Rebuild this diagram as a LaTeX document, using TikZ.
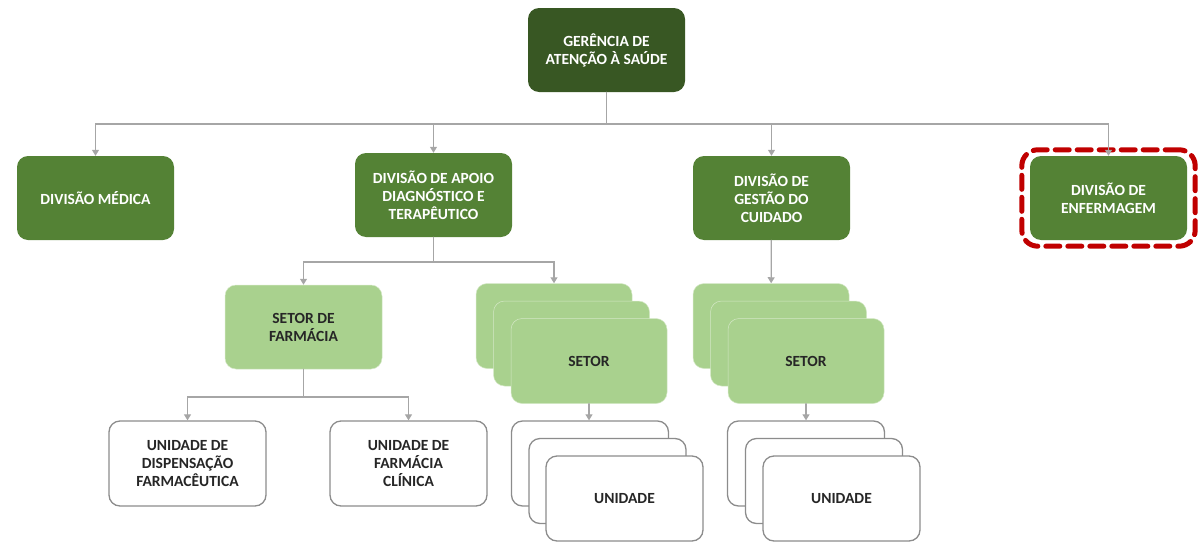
\documentclass[tikz,border=0pt]{standalone}
\usepackage{fontspec}
\setmainfont{Carlito}
\usetikzlibrary{arrows.meta,fit}

\definecolor{verdeEsc}{HTML}{385723}
\definecolor{verdeMed}{HTML}{548235}
\definecolor{verdeCla}{HTML}{A9D18E}
\definecolor{cinzaLin}{HTML}{A6A6A6}
\definecolor{cinzaBor}{HTML}{8C8C8C}
\definecolor{vermelho}{HTML}{C00000}

\begin{document}
\begin{tikzpicture}[x=1pt,y=-1pt,line cap=round,
  caixa/.style={rounded corners=11pt, minimum width=157pt, minimum height=84pt,
    align=center, inner sep=2pt, font=\bfseries\fontsize{15.5}{18}\selectfont},
  gerencia/.style={caixa, fill=verdeEsc, text=white},
  divisao/.style={caixa, fill=verdeMed, text=white},
  setor/.style={caixa, fill=verdeCla, draw=verdeCla!50!white, line width=0.5pt, text=black!85},
  unidade/.style={caixa, fill=white, draw=cinzaBor, line width=1.3pt, text=black!85},
  link/.style={draw=cinzaLin, line width=1.2pt},
  seta/.style={link, -{Triangle[width=7pt,length=6pt]}}]

\useasboundingbox (0,0) rectangle (1199,546);

% --- Gerencia ---
\node[gerencia] (ger) at (606.5,50) {GERÊNCIA DE\\ATENÇÃO À SAÚDE};

% --- Divisoes ---
\node[divisao] (med)    at (95.5,198)   {DIVISÃO MÉDICA};
\node[divisao] (apoio)  at (433.5,195)  {DIVISÃO DE APOIO\\DIAGNÓSTICO E\\TERAPÊUTICO};
\node[divisao] (gestao) at (771.5,198)  {DIVISÃO DE\\GESTÃO DO\\CUIDADO};
\node[divisao] (enf)    at (1108.5,198) {DIVISÃO DE\\ENFERMAGEM};
\node[draw=vermelho, line width=5pt, dash pattern=on 14pt off 8pt, rounded corners=16pt,
  inner xsep=8pt, inner ysep=6pt, fit=(enf)] (destaque) {};

% --- Setores ---
\node[setor] (farm) at (303.5,327) {SETOR DE\\FARMÁCIA};
\node[setor, minimum width=156pt, minimum height=85pt] (setA1) at (554,326)   {};
\node[setor, minimum width=156pt, minimum height=85pt] (setA2) at (571.5,343.5) {};
\node[setor, minimum width=156pt, minimum height=85pt] (setA3) at (589,361)   {SETOR};
\node[setor, minimum width=156pt, minimum height=85pt] (setB1) at (771,326)   {};
\node[setor, minimum width=156pt, minimum height=85pt] (setB2) at (788.5,343.5) {};
\node[setor, minimum width=156pt, minimum height=85pt] (setB3) at (806,361)   {SETOR};

% --- Unidades ---
\node[unidade, minimum height=85pt] (disp) at (187.5,463.5) {UNIDADE DE\\DISPENSAÇÃO\\FARMACÊUTICA};
\node[unidade, minimum height=85pt] (clin) at (408.5,463.5) {UNIDADE DE\\FARMÁCIA\\CLÍNICA};
\node[unidade, minimum height=85pt] (uniA1) at (590,463.5)   {};
\node[unidade, minimum height=85pt] (uniA2) at (607.5,481)   {};
\node[unidade, minimum height=85pt] (uniA3) at (624.5,498.5) {UNIDADE};
\node[unidade, minimum height=85pt] (uniB1) at (806,463.5)   {};
\node[unidade, minimum height=85pt] (uniB2) at (824,481)     {};
\node[unidade, minimum height=85pt] (uniB3) at (841.5,498.5) {UNIDADE};

% --- Ligacoes ---
\coordinate (bus1) at (606.5,124);
\coordinate (bus2) at (433.5,262);
\coordinate (bus3) at (303.5,397);
\draw[link] (ger) -- (bus1);
\draw[seta] (bus1) -| (med.north);
\draw[seta] (bus1) -| (apoio.north);
\draw[seta] (bus1) -| (gestao.north);
\draw[seta] (bus1) -| (enf.north);

\draw[link] (apoio) -- (bus2);
\draw[seta] (bus2) -| (farm.north);
\draw[seta] (bus2) -| (setA1.north);
\draw[seta] (gestao) -- (setB1);

\draw[link] (farm) -- (bus3);
\draw[seta] (bus3) -| (disp.north);
\draw[seta] (bus3) -| (clin.north);
\draw[seta] (setA3.south) -- (setA3.south |- uniA1.north);
\draw[seta] (setB3.south) -- (setB3.south |- uniB1.north);

\end{tikzpicture}
\end{document}
